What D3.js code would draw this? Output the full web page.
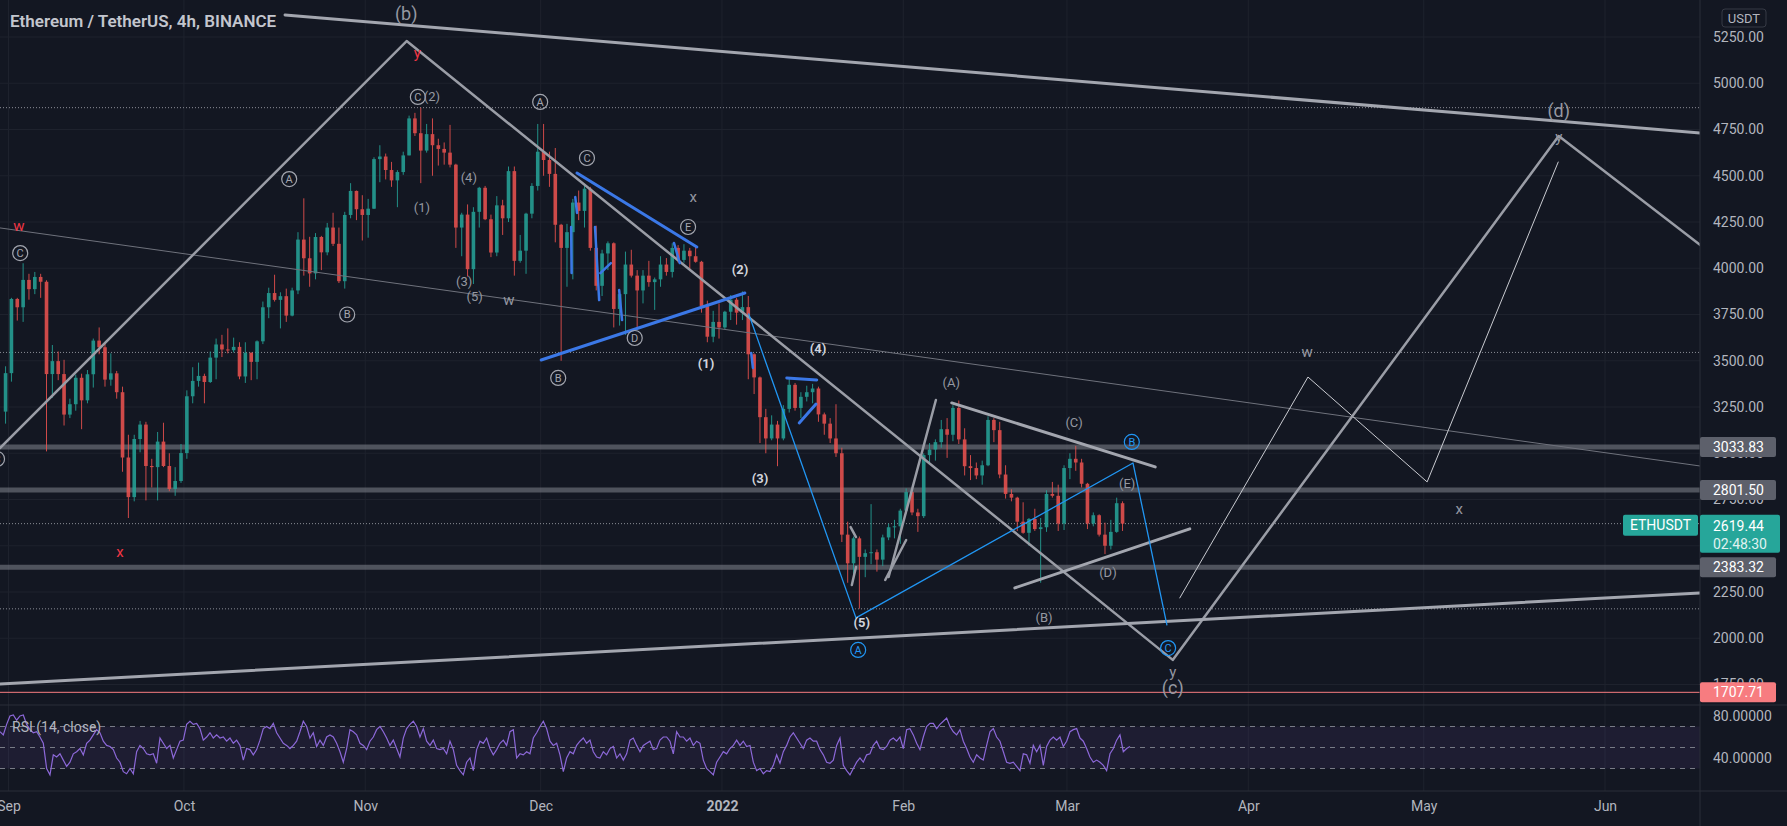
<!DOCTYPE html>
<html>
<head>
<meta charset="utf-8">
<script src="https://cdnjs.cloudflare.com/ajax/libs/d3/7.8.5/d3.min.js"></script>
<style>
  html, body { margin: 0; padding: 0; background: #131722; overflow: hidden; }
  svg { display: block; font-family: Roboto, "Noto Sans", sans-serif; }
</style>
</head>
<body>
<div id="chart"></div>
<script>

// ---------- data ----------

// daily ETH/USDT candles, open = previous close
var candleStart = '2021-08-31';
var firstOpen = 3225;
var closes = [3433,
    3834, 3789, 3937, 3887, 3953, 3927, 3428, 3498, 3428, 3209, 3265, 3408, 3286, 3427, 3609,
    3573, 3398, 3432, 3330, 2977, 2763, 3077, 3155, 2931, 2925, 3063, 2931, 2807, 2850, 3001,
    3308, 3391, 3418, 3385, 3517, 3588, 3561, 3557, 3575, 3415, 3543, 3494, 3605, 3789, 3866, 3829,
    3849, 3744, 3880, 4155, 4054, 3972, 4169, 4086, 4220, 4132, 3930, 4288, 4418, 4319, 4288,
    4322, 4590, 4604, 4531, 4475, 4520, 4610, 4810, 4730, 4636, 4725, 4665, 4645, 4625, 4560,
    4220, 4290, 3995, 4305, 4435, 4265, 4085, 4340, 4270, 4525, 4040, 4095, 4295, 4445, 4630,
    4585, 4510, 4235, 4110, 4195, 4355, 4310, 4430, 4110, 3905, 4080, 4135, 3780, 3860, 4020, 3960,
    3880, 3960, 3925, 3940, 4020, 3980, 4110, 4045, 4095, 4065, 4035, 3795, 3630, 3710, 3680,
    3765, 3830, 3760, 3790, 3535, 3410, 3195, 3080, 3155, 3080, 3240, 3370, 3245, 3305, 3330, 3350,
    3210, 3160, 3080, 3000, 2560, 2405, 2540, 2440, 2460, 2465, 2425, 2545, 2600, 2605, 2690,
    2790, 2680, 2660, 2990, 3020, 3060, 3130, 3100, 3245, 3075, 2930, 2920, 2880, 2935, 3180,
    3125, 2885, 2780, 2760, 2630, 2570, 2645, 2590, 2600, 2780, 2770, 2620, 2920,
    2970, 2950, 2835, 2620, 2665, 2560, 2500, 2575, 2730, 2619.44];
var highs = [3470,
    3840, 3840, 4027, 3970, 3980, 3970, 3935, 3585, 3550, 3505, 3295, 3425, 3430, 3450, 3620,
    3680, 3600, 3540, 3445, 3360, 3100, 3100, 3175, 3170, 2970, 3115, 3165, 3000, 2925, 3050,
    3340, 3465, 3490, 3430, 3550, 3620, 3640, 3675, 3625, 3600, 3600, 3545, 3610, 3820, 3895, 3965,
    3870, 3890, 3895, 4195, 4378, 4170, 4190, 4175, 4245, 4300, 4220, 4305, 4460, 4420, 4395,
    4375, 4600, 4665, 4620, 4575, 4530, 4630, 4825, 4840, 4868, 4780, 4810, 4700, 4680, 4775,
    4565, 4300, 4345, 4330, 4440, 4445, 4290, 4390, 4370, 4550, 4550, 4180, 4300, 4460, 4780,
    4780, 4630, 4650, 4240, 4240, 4375, 4420, 4445, 4440, 4230, 4100, 4145, 4140, 3880, 4090, 4100,
    3990, 3990, 4040, 3950, 4065, 4055, 4135, 4125, 4130, 4110, 4125, 4040, 3825, 3770, 3810,
    3770, 3855, 3840, 3875, 3850, 3540, 3415, 3240, 3205, 3175, 3260, 3410, 3380, 3330, 3365, 3375,
    3360, 3220, 3190, 3265, 3030, 2630, 2550, 2550, 2480, 2725, 2480, 2560, 2620, 2640, 2700,
    2810, 2810, 2700, 3000, 3055, 3075, 3180, 3190, 3260, 3285, 3135, 2990, 2950, 2960, 3200,
    3190, 3170, 2935, 2805, 2765, 2735, 2650, 2700, 2650, 2800, 2845, 2830, 2935,
    3000, 3040, 2970, 2840, 2680, 2670, 2625, 2640, 2760, 2740];
var lows = [3160,
    3387, 3717, 3710, 3830, 3860, 3840, 3010, 3300, 3395, 3150, 3190, 3230, 3130, 3270, 3355,
    3535, 3360, 3365, 3295, 2900, 2650, 2740, 3005, 2745, 2815, 2745, 2925, 2795, 2770, 2840,
    2970, 3270, 3360, 3270, 3380, 3400, 3520, 3540, 3545, 3400, 3380, 3395, 3400, 3590, 3730, 3820,
    3675, 3710, 3740, 3860, 3960, 3900, 3940, 3990, 4070, 4120, 3920, 3890, 4270, 4260, 4150,
    4165, 4320, 4465, 4480, 4440, 4330, 4505, 4610, 4715, 4460, 4625, 4500, 4555, 4560, 4545,
    4110, 4065, 3955, 3915, 4220, 4260, 4060, 4065, 4180, 4250, 3960, 4030, 3970, 4270, 4420,
    4500, 4440, 4140, 3500, 3900, 3940, 4260, 4220, 4095, 3880, 3850, 3990, 3680, 3690, 3640, 3950,
    3675, 3810, 3900, 3775, 3900, 3960, 3950, 4030, 4030, 3990, 4030, 3760, 3600, 3600, 3620,
    3670, 3720, 3695, 3720, 3400, 3320, 3055, 3000, 3070, 2930, 3070, 3220, 3230, 3190, 3280, 3270,
    3170, 3100, 3055, 2980, 2520, 2300, 2330, 2160, 2330, 2400, 2360, 2390, 2530, 2540, 2510,
    2675, 2665, 2575, 2650, 2950, 2960, 3030, 2975, 3065, 3050, 2880, 2855, 2860, 2830, 2930,
    3060, 2865, 2755, 2740, 2580, 2565, 2500, 2580, 2300, 2575, 2760, 2580, 2585,
    2860, 2905, 2815, 2590, 2605, 2550, 2455, 2480, 2570, 2580];

// rsi (14, close)
var rsiStart = '2021-08-30T13:00';
var rsiStepHours = 13.68;
var rsiValues = [
    65, 62, 72, 80, 81, 76, 80, 81, 72, 67, 64, 65, 60, 54, 30, 24,
    43, 41, 44, 38, 32, 36, 44, 46, 49, 43, 54, 57, 62, 67, 64, 56, 52, 51, 48, 40,
    36, 27, 25, 30, 25, 46, 52, 49, 44, 43, 44, 35, 59, 54, 49, 52, 40, 48, 56, 57,
    72, 75, 72, 73, 68, 57, 60, 64, 59, 62, 59, 60, 56, 59, 54, 57, 52, 38, 49, 48,
    43, 48, 57, 68, 70, 68, 73, 64, 59, 54, 52, 49,
    52, 56, 65, 75, 70, 59, 64, 51, 57, 52, 60, 62, 60, 54, 46, 36, 49, 67, 65, 62,
    54, 52, 48, 56, 60, 67, 70, 65, 59, 52, 57, 49, 41, 59, 68, 72, 75, 70, 60, 68,
    56, 52, 57, 49, 48, 49, 44, 56, 48, 33, 28, 24, 36, 40, 28, 48, 56, 54, 59, 49,
    43, 48, 54, 57, 52, 65, 67, 40, 44, 43, 46, 44, 59, 64, 70, 75, 68, 56, 52, 54,
    43, 27, 40, 46, 44, 52,
    56, 59, 54, 57, 46, 41, 40, 46, 43, 49, 51, 40, 44, 38, 44, 57, 59, 52, 46, 52,
    54, 56, 48, 49, 57, 60, 60, 56, 44, 65, 60, 60, 56, 59, 52, 56, 54, 38, 30, 27,
    24, 36, 41, 46, 44, 49, 52, 57, 52, 56, 51, 52, 36, 28, 30, 25, 28, 27, 33, 43,
    35, 46, 52, 60, 64, 59, 54, 49, 57, 59, 56, 56, 48, 43, 36, 35, 38, 52, 59, 33,
    28, 24, 30, 36, 40,
    36, 43, 44, 52, 56, 49, 48, 51, 57, 59, 56, 60, 49, 67, 68, 62, 54, 48, 60, 70,
    73, 73, 68, 72, 75, 78, 70, 65, 62, 67, 56, 49, 41, 36, 43, 40, 38, 52, 65, 68,
    60, 56, 46, 36, 35, 36, 32, 28, 44, 43, 35, 52, 46, 52, 33, 51, 57, 60, 57, 60,
    51, 56, 65, 67, 68, 59, 56, 49, 41, 36, 38, 36, 33, 28, 44, 49, 57, 62, 46, 49, 51];

// axes
var monthTicks = ['2021-09-01', '2021-10-01', '2021-11-01', '2021-12-01', '2022-01-01',
    '2022-02-01', '2022-03-01', '2022-04-01', '2022-05-01', '2022-06-01'];
var monthLabels = ['Sep', 'Oct', 'Nov', 'Dec', '2022', 'Feb', 'Mar', 'Apr', 'May', 'Jun'];
var priceTicks = [5250, 5000, 4750, 4500, 4250, 4000, 3750, 3500, 3250, 3000, 2750, 2500, 2250, 2000, 1750];
var rsiTicks = [80, 40];
var rsiLevels = [70, 50, 30];

// horizontal levels
var bandLevels = [3033.83, 2801.50, 2383.32];
var dottedLevels = [4868, 3545, 2619.44, 2159];
var redLevel = 1707.71;
var lastPrice = 2619.44;
var countdown = '02:48:30';
var symbol = 'ETHUSDT';

// drawings, points as [time, price]
var thickGreyLines = [
    [['2021-10-18T07:00', 5369], ['2022-06-17T07:00', 4731]],
    [['2021-08-30T13:00', 1753], ['2022-06-17T07:00', 2245]],
    [['2022-02-09T07:00', 3272], ['2022-03-16T02:00', 2926]],
    [['2022-02-20T02:00', 2272], ['2022-03-22T00:00', 2591]]
];
var zigzagLines = [
    [['2021-08-30T13:00', 3028], ['2021-11-08T02:00', 5228], ['2022-03-19T02:00', 1883],
     ['2022-05-24T02:00', 4715], ['2022-06-17T07:00', 4126]],
    [['2022-01-29T12:00', 2331], ['2022-02-06T14:00', 3288]],
    [['2022-01-28T22:00', 2315], ['2022-02-01T12:00', 2531]],
    [['2022-01-23T00:00', 2601], ['2022-01-23T22:00', 2547]],
    [['2022-01-23T05:00', 2288], ['2022-01-23T22:00', 2385]]
];
var faintLines = [
    [['2021-08-30T13:00', 4218], ['2022-06-17T07:00', 2931]]
];
var projectionLines = [
    [['2022-03-20T07:00', 2218], ['2022-04-11T05:00', 3412], ['2022-05-01T14:00', 2845],
     ['2022-05-24T00:00', 4574]]
];
var blueThickLines = [
    [['2021-12-07T05:00', 4515], ['2021-12-27T17:00', 4115]],
    [['2021-12-01T02:00', 3504], ['2022-01-04T22:00', 3866]],
    [['2022-01-12T02:00', 3407], ['2022-01-17T05:00', 3396]],
    [['2022-01-14T05:00', 3164], ['2022-01-17T02:00', 3266]]
];
var blueSubLines = [
    [['2021-12-06T22:00', 4385], ['2021-12-07T05:00', 4299]],
    [['2021-12-06T05:00', 4223], ['2021-12-06T07:00', 3974]],
    [['2021-12-10T07:00', 4223], ['2021-12-11T00:00', 3828]],
    [['2021-12-11T05:00', 3974], ['2021-12-13T00:00', 4028]],
    [['2021-12-14T10:00', 3883], ['2021-12-14T22:00', 3720]],
    [['2021-12-23T19:00', 4137], ['2021-12-24T19:00', 4028]],
    [['2022-01-06T00:00', 3542], ['2022-01-06T07:00', 3461]]
];
var blueThinLines = [
    [['2022-01-05T14:00', 3753], ['2022-01-23T22:00', 2110], ['2022-03-12T07:00', 2947],
     ['2022-03-18T02:00', 2072]]
];

// wave labels as [text, time, price]
var circledGrey = [
    ['C', '2021-08-30T01:00', 2969], ['C', '2021-09-03T00:00', 4082], ['A', '2021-10-19T00:00', 4482],
    ['B', '2021-10-28T22:00', 3750], ['C', '2021-11-10T00:00', 4926], ['A', '2021-11-30T22:00', 4899],
    ['C', '2021-12-08T22:00', 4596], ['B', '2021-12-04T00:00', 3407], ['D', '2021-12-17T02:00', 3623],
    ['E', '2021-12-26T05:00', 4223]
];
var circledBlue = [
    ['A', '2022-01-24T07:00', 1937], ['B', '2022-03-12T02:00', 3061], ['C', '2022-03-18T07:00', 1947]
];
var minorLabels = [
    ['(2)', '2021-11-12T10:00', 4926], ['(4)', '2021-11-18T17:00', 4493], ['(1)', '2021-11-10T17:00', 4326],
    ['(3)', '2021-11-17T22:00', 3926], ['(5)', '2021-11-19T17:00', 3845], ['(A)', '2022-02-09T05:00', 3385],
    ['(C)', '2022-03-02T05:00', 3164], ['(E)', '2022-03-11T07:00', 2839], ['(D)', '2022-03-08T00:00', 2353],
    ['(B)', '2022-02-25T02:00', 2115]
];
var impulseLabels = [
    ['(2)', '2022-01-04T02:00', 3996], ['(1)', '2021-12-29T07:00', 3483], ['(4)', '2022-01-17T10:00', 3564],
    ['(3)', '2022-01-07T12:00', 2866], ['(5)', '2022-01-24T22:00', 2088]
];
var degreeLabels = [
    ['(b)', '2021-11-08T00:00', 5374], ['(d)', '2022-05-24T02:00', 4850], ['(c)', '2022-03-19T02:00', 1731]
];
var redLetters = [
    ['y', '2021-11-09T22:00', 5164], ['w', '2021-09-02T19:00', 4228], ['x', '2021-09-20T02:00', 2466]
];
var greyLetters = [
    ['w', '2021-11-25T14:00', 3828], ['x', '2021-12-27T02:00', 4385], ['y', '2022-03-19T02:00', 1818],
    ['y', '2022-05-24T02:00', 4710], ['w', '2022-04-11T02:00', 3547], ['x', '2022-05-07T02:00', 2699]
];

// ---------- layout ----------

var width = 1787;
var height = 826;
var paneRight = 1700;
var mainBottom = 705;
var rsiBottom = 791;
var axisFont = '14px';

var parseDay = d3.timeParse('%Y-%m-%d');
var parseHour = d3.timeParse('%Y-%m-%dT%H:%M');
function toDate(s) {
    return s.length > 10 ? parseHour(s) : parseDay(s);
}

// scales
var x = d3.scaleTime()
    .domain([parseDay('2021-09-01'), parseDay('2022-06-01')])
    .range([8.5, 1605]);
var y = d3.scaleLinear()
    .domain([1750, 5250])
    .range([684.5, 37]);
var yRsi = d3.scaleLinear()
    .domain([0, 100])
    .range([800, 695]);

var svg = d3.select('#chart').append('svg')
    .attr('width', width)
    .attr('height', height);

svg.append('rect')
    .attr('width', width)
    .attr('height', height)
    .attr('fill', '#131722');

var defs = svg.append('defs');
defs.append('clipPath').attr('id', 'mainClip')
    .append('rect').attr('width', paneRight).attr('height', mainBottom);
defs.append('clipPath').attr('id', 'rsiClip')
    .append('rect').attr('y', mainBottom).attr('width', paneRight).attr('height', rsiBottom - mainBottom);

// grid
var grid = svg.append('g');
grid.selectAll('.vgrid')
    .data(monthTicks)
    .enter()
    .append('line')
    .attr('x1', d => x(toDate(d)))
    .attr('x2', d => x(toDate(d)))
    .attr('y1', 0)
    .attr('y2', rsiBottom)
    .attr('stroke', '#1e222d');
grid.selectAll('.hgrid')
    .data(priceTicks)
    .enter()
    .append('line')
    .attr('x1', 0)
    .attr('x2', paneRight)
    .attr('y1', d => y(d))
    .attr('y2', d => y(d))
    .attr('stroke', '#1e222d');

var main = svg.append('g').attr('clip-path', 'url(#mainClip)');

// horizontal levels
main.selectAll('.band')
    .data(bandLevels)
    .enter()
    .append('line')
    .attr('x1', 0)
    .attr('x2', paneRight)
    .attr('y1', d => y(d))
    .attr('y2', d => y(d))
    .attr('stroke', 'rgba(120, 123, 134, 0.6)')
    .attr('stroke-width', 5);

main.selectAll('.dotted')
    .data(dottedLevels)
    .enter()
    .append('line')
    .attr('x1', 0)
    .attr('x2', paneRight)
    .attr('y1', d => y(d))
    .attr('y2', d => y(d))
    .attr('stroke', '#8a8d96')
    .attr('stroke-dasharray', '1,2');

main.append('line')
    .attr('x1', 0)
    .attr('x2', paneRight)
    .attr('y1', y(redLevel))
    .attr('y2', y(redLevel))
    .attr('stroke', '#f77c80');

// candles
var candles = closes.map(function (c, i) {
    return {
        date: d3.timeHour.offset(d3.timeDay.offset(parseDay(candleStart), i), 12),
        open: i === 0 ? firstOpen : closes[i - 1],
        high: highs[i],
        low: lows[i],
        close: c
    };
});
var dayWidth = x(parseDay('2021-09-02')) - x(parseDay('2021-09-01'));
var bodyWidth = dayWidth * 0.62;

var candleGroup = main.append('g').attr('opacity', 0.85);
candleGroup.selectAll('.wick')
    .data(candles)
    .enter()
    .append('line')
    .attr('x1', d => x(d.date))
    .attr('x2', d => x(d.date))
    .attr('y1', d => y(d.high))
    .attr('y2', d => y(d.low))
    .attr('stroke', d => d.close >= d.open ? '#26a69a' : '#ef5350')
    .attr('stroke-width', 1);
candleGroup.selectAll('.body')
    .data(candles)
    .enter()
    .append('rect')
    .attr('x', d => x(d.date) - bodyWidth / 2)
    .attr('width', bodyWidth)
    .attr('y', d => y(Math.max(d.open, d.close)))
    .attr('height', d => Math.max(1, Math.abs(y(d.open) - y(d.close))))
    .attr('fill', d => d.close >= d.open ? '#26a69a' : '#ef5350');

// drawings
var drawLine = d3.line()
    .x(d => x(toDate(d[0])))
    .y(d => y(d[1]));

function addLines(list, color, strokeWidth) {
    main.selectAll(null)
        .data(list)
        .enter()
        .append('path')
        .attr('d', drawLine)
        .attr('fill', 'none')
        .attr('stroke', color)
        .attr('stroke-width', strokeWidth)
        .attr('stroke-linejoin', 'round')
        .attr('stroke-linecap', 'round');
}

addLines(faintLines, '#6f727c', 1);
addLines(projectionLines, '#c9cbd1', 1);
addLines(zigzagLines, '#9a9da6', 2.5);
addLines(thickGreyLines, '#a3a6af', 3);
addLines(blueThinLines, '#2196f3', 1.3);
addLines(blueThickLines, '#3b78e7', 3);
addLines(blueSubLines, '#3b78e7', 2.5);

// labels
function addText(list, color, size, weight) {
    main.selectAll(null)
        .data(list)
        .enter()
        .append('text')
        .attr('x', d => x(toDate(d[1])))
        .attr('y', d => y(d[2]))
        .attr('dy', '0.35em')
        .attr('text-anchor', 'middle')
        .attr('fill', color)
        .style('font-size', size + 'px')
        .style('font-weight', weight)
        .text(d => d[0]);
}

function addCircled(list, color) {
    var g = main.selectAll(null)
        .data(list)
        .enter()
        .append('g')
        .attr('transform', d => `translate(${x(toDate(d[1]))}, ${y(d[2])})`);
    g.append('circle')
        .attr('r', 7.5)
        .attr('fill', 'none')
        .attr('stroke', color)
        .attr('stroke-width', 1.2);
    g.append('text')
        .attr('text-anchor', 'middle')
        .attr('dy', '0.36em')
        .attr('fill', color)
        .style('font-size', '11px')
        .text(d => d[0]);
}

addCircled(circledGrey, '#a3a6af');
addCircled(circledBlue, '#2196f3');
addText(minorLabels, '#9598a1', 13, 400);
addText(impulseLabels, '#d1d4dc', 13, 700);
addText(degreeLabels, '#9598a1', 18, 400);
addText(redLetters, '#f23645', 15, 400);
addText(greyLetters, '#9598a1', 15, 400);

// rsi pane
var rsiPane = svg.append('g').attr('clip-path', 'url(#rsiClip)');

rsiPane.append('rect')
    .attr('x', 0)
    .attr('width', paneRight)
    .attr('y', yRsi(70))
    .attr('height', yRsi(30) - yRsi(70))
    .attr('fill', 'rgba(126, 87, 194, 0.1)');

rsiPane.selectAll('.level')
    .data(rsiLevels)
    .enter()
    .append('line')
    .attr('x1', 0)
    .attr('x2', paneRight)
    .attr('y1', d => yRsi(d))
    .attr('y2', d => yRsi(d))
    .attr('stroke', '#787b86')
    .attr('stroke-dasharray', '5,5');

var rsiStartDate = toDate(rsiStart);
var rsiLine = d3.line()
    .x((d, i) => x(new Date(rsiStartDate.getTime() + i * rsiStepHours * 3600000)))
    .y(d => yRsi(d));

rsiPane.append('path')
    .datum(rsiValues)
    .attr('d', rsiLine)
    .attr('fill', 'none')
    .attr('stroke', '#8c68d8')
    .attr('stroke-width', 1.2);

rsiPane.append('text')
    .attr('x', 12)
    .attr('y', 732)
    .attr('fill', '#b2b5be')
    .style('font-size', '14px')
    .text('RSI (14, close)');

// pane borders
svg.append('line')
    .attr('x1', 0).attr('x2', width)
    .attr('y1', mainBottom).attr('y2', mainBottom)
    .attr('stroke', '#2a2e39');
svg.append('line')
    .attr('x1', 0).attr('x2', width)
    .attr('y1', rsiBottom).attr('y2', rsiBottom)
    .attr('stroke', '#2a2e39');
svg.append('line')
    .attr('x1', paneRight).attr('x2', paneRight)
    .attr('y1', 0).attr('y2', height)
    .attr('stroke', '#2a2e39');

// price axis
var priceAxis = svg.append('g')
    .attr('transform', `translate(${paneRight}, 0)`)
    .call(d3.axisRight(y).tickValues(priceTicks).tickFormat(d3.format('.2f')).tickSize(0).tickPadding(13));
var rsiAxis = svg.append('g')
    .attr('transform', `translate(${paneRight}, 0)`)
    .call(d3.axisRight(yRsi).tickValues(rsiTicks).tickFormat(d3.format('.5f')).tickSize(0).tickPadding(13));
[priceAxis, rsiAxis].forEach(function (a) {
    a.select('.domain').remove();
    a.selectAll('text')
        .attr('fill', '#b2b5be')
        .attr('text-anchor', 'start')
        .style('font-size', axisFont)
        .style('font-family', 'Roboto, "Noto Sans", sans-serif');
});

// time axis
var timeAxis = svg.append('g')
    .attr('transform', `translate(0, ${rsiBottom})`)
    .call(d3.axisBottom(x)
        .tickValues(monthTicks.map(toDate))
        .tickFormat((d, i) => monthLabels[i])
        .tickSize(0)
        .tickPadding(10));
timeAxis.select('.domain').remove();
timeAxis.selectAll('text')
    .attr('fill', '#b2b5be')
    .style('font-size', axisFont)
    .style('font-family', 'Roboto, "Noto Sans", sans-serif')
    .style('font-weight', (d, i) => monthLabels[i] === '2022' ? 700 : 400);

// axis value tags
function tag(value, fill) {
    var g = svg.append('g');
    g.append('rect')
        .attr('x', paneRight)
        .attr('y', y(value) - 10)
        .attr('width', 76)
        .attr('height', 20)
        .attr('rx', 2)
        .attr('fill', fill);
    g.append('text')
        .attr('x', paneRight + 13)
        .attr('y', y(value))
        .attr('dy', '0.35em')
        .attr('fill', '#ffffff')
        .style('font-size', axisFont)
        .text(d3.format('.2f')(value));
}
bandLevels.forEach(function (v) { tag(v, '#5d606b'); });
tag(redLevel, '#f77c80');

// last price tag
var lastY = y(lastPrice);
svg.append('rect')
    .attr('x', paneRight)
    .attr('y', lastY - 9)
    .attr('width', 80)
    .attr('height', 38)
    .attr('rx', 2)
    .attr('fill', '#26a69a');
svg.append('text')
    .attr('x', paneRight + 13)
    .attr('y', lastY + 2)
    .attr('dy', '0.35em')
    .attr('fill', '#ffffff')
    .style('font-size', axisFont)
    .text(d3.format('.2f')(lastPrice));
svg.append('text')
    .attr('x', paneRight + 13)
    .attr('y', lastY + 20)
    .attr('dy', '0.35em')
    .attr('fill', '#e0f2f1')
    .style('font-size', axisFont)
    .text(countdown);
svg.append('rect')
    .attr('x', paneRight - 77)
    .attr('y', lastY - 9)
    .attr('width', 75)
    .attr('height', 21)
    .attr('rx', 2)
    .attr('fill', '#26a69a');
svg.append('text')
    .attr('x', paneRight - 39.5)
    .attr('y', lastY + 1.5)
    .attr('dy', '0.35em')
    .attr('text-anchor', 'middle')
    .attr('fill', '#ffffff')
    .style('font-size', axisFont)
    .text(symbol);

// currency badge
svg.append('rect')
    .attr('x', 1722)
    .attr('y', 9)
    .attr('width', 44)
    .attr('height', 18)
    .attr('rx', 3)
    .attr('fill', 'none')
    .attr('stroke', '#363a45');
svg.append('text')
    .attr('x', 1744)
    .attr('y', 18)
    .attr('dy', '0.35em')
    .attr('text-anchor', 'middle')
    .attr('fill', '#b2b5be')
    .style('font-size', '13px')
    .text('USDT');

// title
svg.append('text')
    .attr('x', 10)
    .attr('y', 27)
    .attr('fill', '#c3c6ce')
    .style('font-size', '17px')
    .style('font-weight', 600)
    .text('Ethereum / TetherUS, 4h, BINANCE');

</script>
</body>
</html>
